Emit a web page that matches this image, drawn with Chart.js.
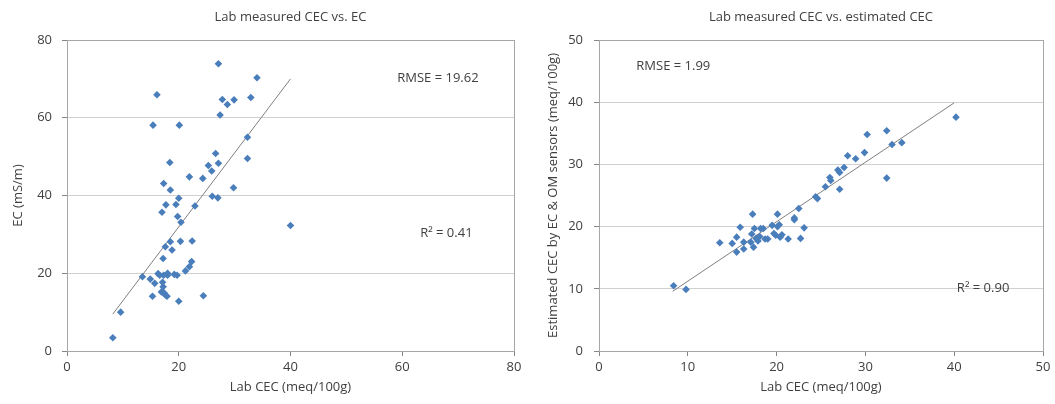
<!DOCTYPE html>
<html>
<head>
<meta charset="utf-8">
<script src="https://cdn.jsdelivr.net/npm/chart.js@4.4.1/dist/chart.umd.min.js"></script>
<style>
  html, body { margin: 0; padding: 0; background: #fff; }
  #wrap { position: relative; width: 1055px; height: 404px; overflow: hidden; }
  canvas { position: absolute; top: 0; }
</style>
</head>
<body>
<div id="wrap">
  <canvas id="left" width="530" height="404" style="left:0"></canvas>
  <canvas id="right" width="525" height="404" style="left:530px"></canvas>
</div>
<script>
// Left panel: lab CEC vs EC
const ecLabCec = [27.1, 34.0, 16.1, 27.8, 28.7, 29.9, 32.9, 27.4, 15.4, 20.1, 32.3, 26.6, 27.1, 32.3, 18.4, 25.3,
  25.9, 21.9, 24.3, 17.3, 18.5, 29.8, 20.0, 26.0, 27.0, 17.7, 19.5, 22.9, 17.0, 19.8, 20.4, 40.0, 18.5, 20.3, 22.4,
  17.6, 18.8, 17.2, 22.3, 21.9, 21.2, 13.5, 14.9, 15.7, 16.3, 16.6, 17.3, 18.0, 18.0, 19.2, 19.7, 17.1, 17.2, 16.9,
  17.4, 17.6, 15.3, 24.4, 20.0, 9.6, 8.2, 17.9];
const ecValues = [73.9, 70.3, 65.9, 64.7, 63.4, 64.6, 65.2, 60.7, 58.1, 58.1, 55.0, 50.8, 48.3, 49.5, 48.5, 47.7,
  46.3, 44.8, 44.4, 43.1, 41.4, 42.0, 39.3, 39.8, 39.4, 37.6, 37.7, 37.3, 35.7, 34.6, 33.1, 32.3, 28.1, 28.2, 28.3,
  26.8, 26.0, 23.8, 23.0, 21.7, 20.6, 19.1, 18.5, 17.4, 19.9, 19.5, 19.5, 20.0, 19.5, 19.7, 19.5, 17.7, 16.5, 15.2,
  14.9, 14.4, 14.1, 14.2, 12.8, 10.0, 3.4, 14.1];
const ecTrendX = [8.2, 40.0];
const ecTrendY = [9.5, 70.0];

// Right panel: lab CEC vs estimated CEC
const estLabCec = [40.2, 32.4, 30.2, 33.0, 34.1, 29.9, 28.0, 28.9, 27.6, 26.9, 27.1, 26.0, 26.1, 25.5, 27.1, 32.4,
  24.4, 24.6, 22.5, 8.4, 9.8, 13.6, 15.0, 15.5, 15.9, 15.5, 16.3, 16.3, 17.3, 17.2, 17.1, 17.4, 17.5, 17.7, 18.2,
  18.5, 18.1, 17.9, 18.7, 19.0, 19.5, 19.7, 19.9, 20.1, 20.1, 20.3, 20.4, 20.6, 21.3, 22.0, 22.0, 22.7, 23.1];
const estCec = [37.6, 35.4, 34.8, 33.2, 33.5, 31.9, 31.4, 30.9, 29.5, 29.1, 28.7, 27.9, 27.4, 26.4, 26.0, 27.8,
  24.8, 24.5, 22.9, 10.5, 9.9, 17.4, 17.3, 18.3, 19.9, 15.9, 16.4, 17.5, 22.0, 18.8, 17.5, 16.7, 19.7, 18.1, 19.7,
  19.7, 18.4, 17.7, 18.0, 18.0, 20.2, 18.9, 18.6, 22.0, 20.0, 20.3, 18.3, 18.7, 18.0, 21.4, 21.1, 18.1, 19.8];
const estTrendX = [8.3, 40.0];
const estTrendY = [9.6, 39.9];

const textColor = '#404040';
const markerColor = '#4a7ebb';
const fontFamily = '"Open Sans", "Liberation Sans", sans-serif';
const fontSize = 13;

const plotFrame = {
  id: 'plotFrame',
  beforeDatasetsDraw(chart) {
    const { ctx, chartArea: a } = chart;
    ctx.save();
    ctx.strokeStyle = '#a6a6a6';
    ctx.lineWidth = 1;
    ctx.strokeRect(Math.round(a.left) + 0.5, Math.round(a.top) + 0.5,
      Math.round(a.right - a.left), Math.round(a.bottom - a.top));
    ctx.restore();
  },
  afterDraw(chart, args, opts) {
    const { ctx, scales } = chart;
    ctx.save();
    ctx.fillStyle = textColor;
    ctx.font = fontSize + 'px ' + fontFamily;
    ctx.textBaseline = 'middle';
    ctx.textAlign = 'left';
    (opts.notes || []).forEach((n) => {
      ctx.fillText(n.text, scales.x.getPixelForValue(n.x), scales.y.getPixelForValue(n.y));
    });
    ctx.restore();
  }
};

function pairs(xs, ys) {
  return xs.map((x, i) => ({ x, y: ys[i] }));
}

function makeChart(id, cfg) {
  const font = { family: fontFamily, size: fontSize, weight: 'normal' };
  return new Chart(document.getElementById(id), {
    type: 'scatter',
    data: {
      datasets: [
        {
          data: pairs(cfg.xs, cfg.ys),
          pointStyle: 'rectRot',
          pointRadius: 3.8,
          pointBackgroundColor: markerColor,
          pointBorderColor: markerColor,
          pointBorderWidth: 0
        },
        {
          data: pairs(cfg.trendX, cfg.trendY),
          showLine: true,
          borderColor: '#7f7f7f',
          borderWidth: 1,
          pointRadius: 0
        }
      ]
    },
    options: {
      responsive: false,
      animation: false,
      devicePixelRatio: 1,
      layout: { padding: { left: 0, right: cfg.padRight, top: 0, bottom: 0 } },
      plugins: {
        legend: { display: false },
        tooltip: { enabled: false },
        title: {
          display: true,
          text: cfg.title,
          fullSize: false,
          color: textColor,
          font,
          padding: { top: 9.2, bottom: 15.2 }
        },
        plotFrame: { notes: cfg.notes }
      },
      scales: {
        x: {
          type: 'linear',
          min: 0,
          max: cfg.xMax,
          afterFit: (s) => { s.height = 53; },
          ticks: { stepSize: cfg.xStep, color: textColor, padding: 3, font },
          grid: { drawOnChartArea: false, drawTicks: true, tickLength: 5, tickColor: '#868686' },
          border: { color: '#868686' },
          title: {
            display: true,
            text: 'Lab CEC (meq/100g)',
            color: textColor,
            font,
            padding: { top: 0, bottom: 9.2 }
          }
        },
        y: {
          type: 'linear',
          min: 0,
          max: cfg.yMax,
          afterFit: (s) => { s.width = cfg.yWidth; },
          ticks: { stepSize: cfg.yStep, color: textColor, padding: cfg.yTickPad, font },
          grid: { color: '#d0d0d0', drawTicks: true, tickLength: 5, tickColor: '#868686' },
          border: { color: '#868686' },
          title: {
            display: true,
            text: cfg.yTitle,
            color: textColor,
            font,
            padding: { top: cfg.yTitlePad, bottom: 0 }
          }
        }
      }
    },
    plugins: [plotFrame]
  });
}

makeChart('left', {
  xs: ecLabCec, ys: ecValues, trendX: ecTrendX, trendY: ecTrendY,
  title: 'Lab measured CEC vs. EC',
  yTitle: 'EC (mS/m)',
  xMax: 80, xStep: 20, yMax: 80, yStep: 20,
  yWidth: 67, yTickPad: 10, yTitlePad: 10.2, padRight: 16,
  notes: [
    { text: 'RMSE = 19.62', x: 59.1, y: 70.2 },
    { text: 'R² = 0.41', x: 63.2, y: 30.3 }
  ]
});

makeChart('right', {
  xs: estLabCec, ys: estCec, trendX: estTrendX, trendY: estTrendY,
  title: 'Lab measured CEC vs. estimated CEC',
  yTitle: 'Estimated CEC by EC & OM sensors (meq/100g)',
  xMax: 50, xStep: 10, yMax: 50, yStep: 10,
  yWidth: 69, yTickPad: 11, yTitlePad: 15.2, padRight: 12,
  notes: [
    { text: 'RMSE = 1.99', x: 4.2, y: 45.8 },
    { text: 'R² = 0.90', x: 40.3, y: 10.1 }
  ]
});
</script>
</body>
</html>
